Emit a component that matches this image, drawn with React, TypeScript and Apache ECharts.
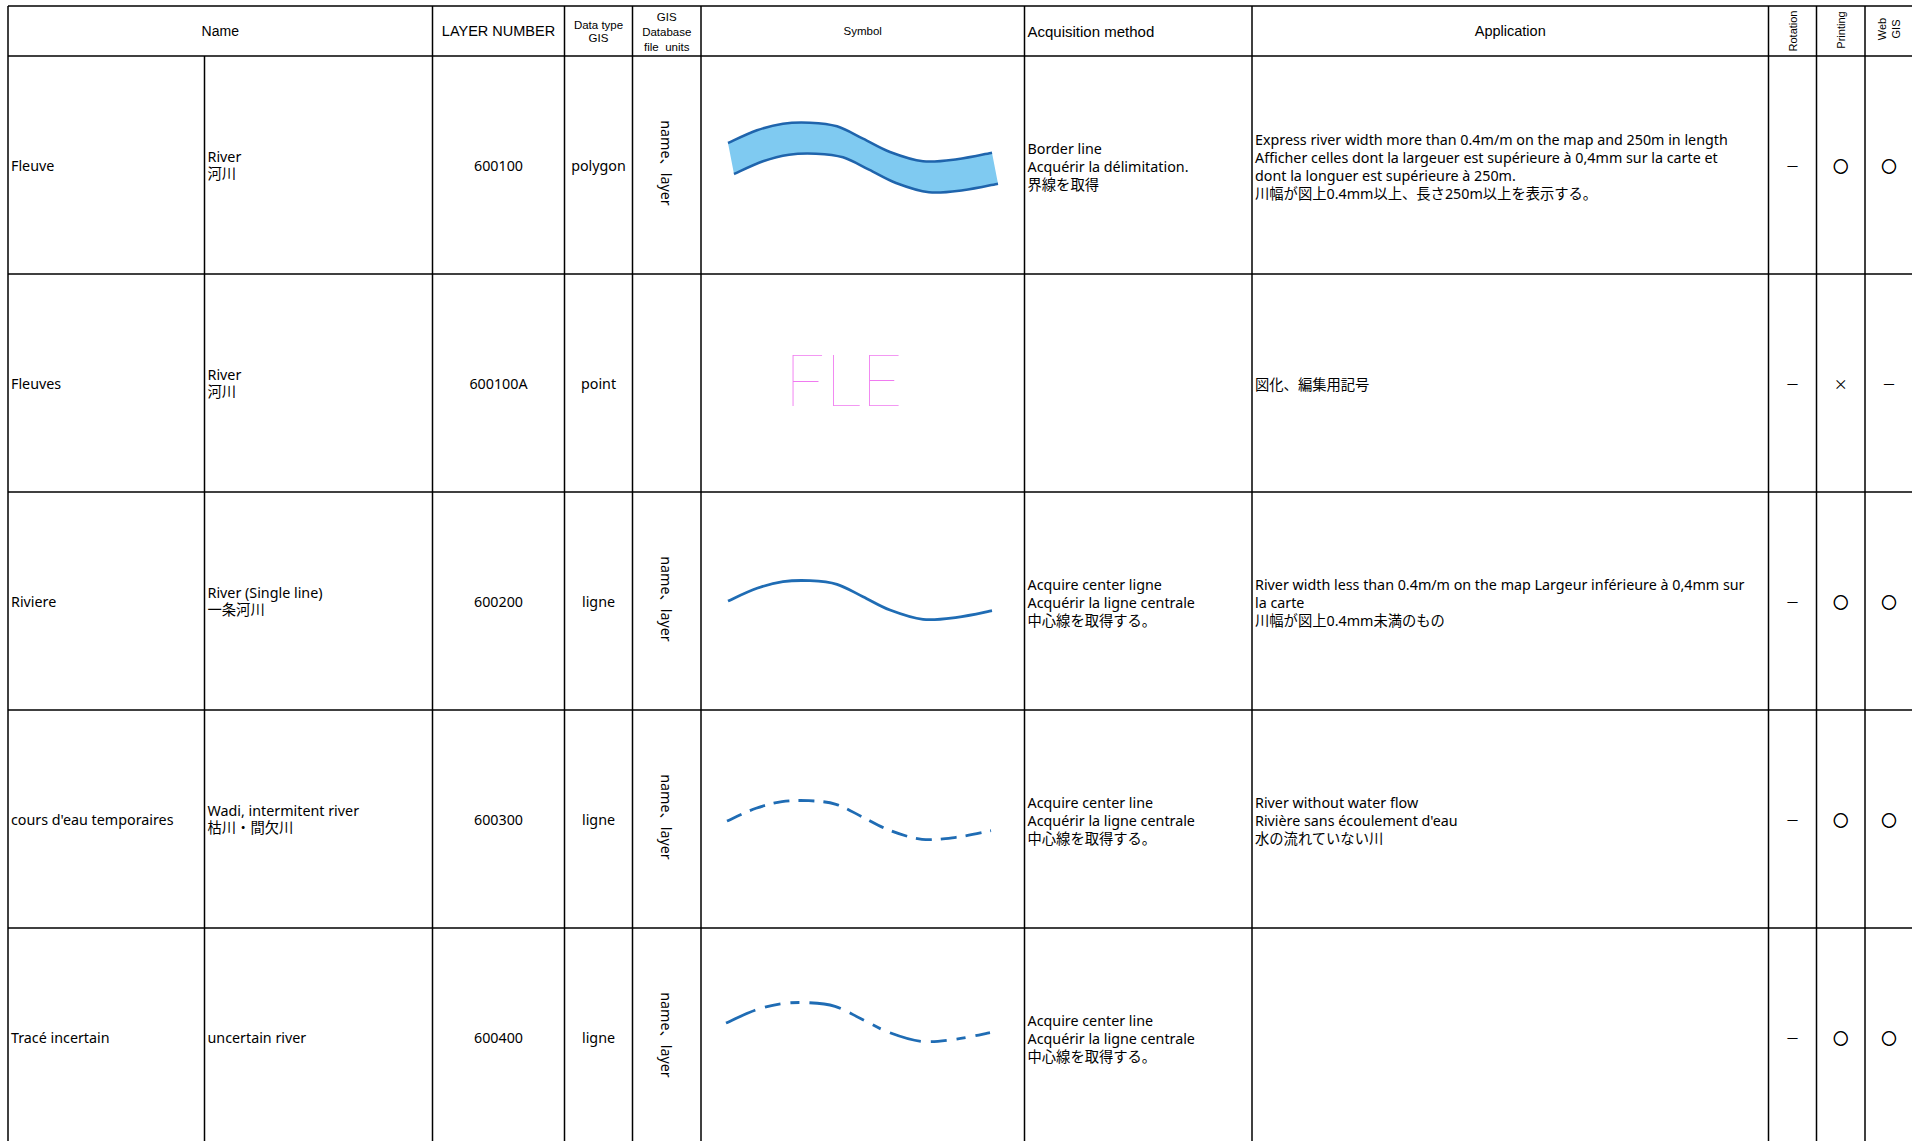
import React, { useEffect, useRef } from "react";
import * as echarts from "echarts";

// ---- table grid ----
const COL_X = [8, 204.5, 432.5, 564.5, 632.5, 701, 1024.5, 1252, 1768.5, 1816.5, 1865, 1913];
const ROW_Y = [6, 56, 274, 492, 710, 928, 1146];

// ---- table content ----
const NAMES_FR = ["Fleuve", "Fleuves", "Riviere", "cours d'eau temporaires", "Tracé incertain"];
const NAMES_EN_JP = [
  "River\n河川",
  "River\n河川",
  "River (Single line)\n一条河川",
  "Wadi, intermitent river\n枯川・間欠川",
  "uncertain river",
];
const LAYER_NUMBERS = ["600100", "600100A", "600200", "600300", "600400"];
const DATA_TYPES = ["polygon", "point", "ligne", "ligne", "ligne"];
const DB_UNITS = ["name、layer", "", "name、layer", "name、layer", "name、layer"];
const ACQUISITION = [
  "Border line\nAcquérir la délimitation.\n界線を取得",
  "",
  "Acquire center ligne\nAcquérir la ligne centrale\n中心線を取得する。",
  "Acquire center line\nAcquérir la ligne centrale\n中心線を取得する。",
  "Acquire center line\nAcquérir la ligne centrale\n中心線を取得する。",
];
const APPLICATION = [
  "Express river width more than 0.4m/m on the map and 250m in length\nAfficher celles dont la largeuer est supérieure à 0,4mm sur la carte et\ndont la longuer est supérieure à 250m.\n川幅が図上0.4mm以上、長さ250m以上を表示する。",
  "図化、編集用記号",
  "River width less than 0.4m/m on the map Largeur inférieure à 0,4mm sur\nla carte\n川幅が図上0.4mm未満のもの",
  "River without water flow\nRivière sans écoulement d'eau\n水の流れていない川",
  "",
];
const ROTATION = ["－", "－", "－", "－", "－"];
const PRINTING = ["○", "×", "○", "○", "○"];
const WEB_GIS = ["○", "－", "○", "○", "○"];

// ---- symbol curve (river outline shape, relative to row centre) ----
const CURVE_X = [728, 757, 783, 810, 837, 863, 890, 923, 957, 992];
const CURVE_DY = [0, -12.7, -19.3, -20.3, -16.7, -4.3, 9, 18.3, 16.3, 9.7];

const FONT = "'Noto Sans', 'Noto Sans CJK JP', sans-serif";
const FONT_HEAD = "'Liberation Sans', 'Noto Sans CJK JP', sans-serif";
const FONT_ARIAL = "'Liberation Sans', Arial, sans-serif";
const FONT_CJK = "'Noto Sans CJK JP', sans-serif";

function pts(dx: number, cy: number, off: number): number[][] {
  return CURVE_X.map((x, i) => [x + dx, cy + off + CURVE_DY[i]]);
}

function segs(p: number[][]): string {
  let d = "";
  for (let i = 0; i < p.length - 1; i++) {
    const p0 = p[Math.max(0, i - 1)];
    const p1 = p[i];
    const p2 = p[i + 1];
    const p3 = p[Math.min(p.length - 1, i + 2)];
    const c1x = p1[0] + (p2[0] - p0[0]) / 6;
    const c1y = p1[1] + (p2[1] - p0[1]) / 6;
    const c2x = p2[0] - (p3[0] - p1[0]) / 6;
    const c2y = p2[1] - (p3[1] - p1[1]) / 6;
    d += ` C ${c1x} ${c1y} ${c2x} ${c2y} ${p2[0]} ${p2[1]}`;
  }
  return d;
}

function openPath(p: number[][]): string {
  return `M ${p[0][0]} ${p[0][1]}` + segs(p);
}

export default function App() {
  const ref = useRef<HTMLDivElement>(null);

  useEffect(() => {
    if (!ref.current) return;
    const rc = (r: number) => (ROW_Y[r + 1] + ROW_Y[r + 2]) / 2;

    // register symbol shapes
    const top = pts(0, rc(0), -22);
    const bot = pts(6, rc(0), 9);
    const botRev = bot.slice().reverse();
    const bandD = openPath(top) + ` L ${botRev[0][0]} ${botRev[0][1]}` + segs(botRev) + " Z";
    echarts.graphic.registerShape("riverBand", echarts.graphic.extendPath(bandD, {}));
    echarts.graphic.registerShape("riverTop", echarts.graphic.extendPath(openPath(top), {}));
    echarts.graphic.registerShape("riverBottom", echarts.graphic.extendPath(openPath(bot), {}));
    echarts.graphic.registerShape("riverSingle", echarts.graphic.extendPath(openPath(pts(0, rc(2), 0)), {}));
    echarts.graphic.registerShape("riverDashed", echarts.graphic.extendPath(openPath(pts(-1, rc(3), 2)), {}));
    echarts.graphic.registerShape("riverUncertain", echarts.graphic.extendPath(openPath(pts(-2, rc(4), -14)), {}));

    const chart = echarts.init(ref.current, null, { renderer: "svg" });
    const els: any[] = [];
    const LINE = { stroke: "#000", lineWidth: 1.5 };

    // horizontal lines
    for (let i = 0; i < ROW_Y.length - 1; i++) {
      els.push({ type: "line", shape: { x1: COL_X[0], y1: ROW_Y[i], x2: 1912, y2: ROW_Y[i] }, style: LINE });
    }
    // vertical lines
    COL_X.forEach((x, i) => {
      const y1 = i === 1 ? ROW_Y[1] : ROW_Y[0];
      els.push({ type: "line", shape: { x1: x, y1, x2: x, y2: 1146 }, style: LINE });
    });

    const txt = (text: string, x: number, y: number, opts: any = {}, rot = 0) => {
      const style: any = {
        text,
        x: 0,
        y: 0,
        fill: opts.fill || "#000",
        fontSize: opts.fontSize || 14.3,
        fontFamily: opts.fontFamily || FONT,
        fontWeight: opts.fontWeight || "normal",
        textAlign: opts.align || "left",
        textVerticalAlign: "middle",
        lineHeight: opts.lineHeight || 18,
      };
      if (opts.stroke) {
        style.stroke = opts.stroke;
        style.lineWidth = opts.strokeWidth || 0.6;
      }
      els.push({ type: "text", x, y, rotation: rot, style });
    };
    const cx = (c: number) => (COL_X[c] + COL_X[c + 1]) / 2;
    const hy = (ROW_Y[0] + ROW_Y[1]) / 2;

    // header
    txt("Name", (COL_X[0] + COL_X[2]) / 2, hy, { align: "center", fontSize: 14, fontFamily: FONT_HEAD });
    txt("LAYER NUMBER", cx(2), hy, { align: "center", fontSize: 14.5, fontFamily: FONT_HEAD });
    txt("Data type\nGIS", cx(3), hy, { align: "center", fontSize: 11.5, lineHeight: 13, fontFamily: FONT_HEAD });
    txt("GIS\nDatabase\nfile  units", cx(4), hy + 0.5, { align: "center", fontSize: 11.5, lineHeight: 15, fontFamily: FONT_HEAD });
    txt("Symbol", cx(5), hy, { align: "center", fontSize: 11.5, fontFamily: FONT_HEAD });
    txt("Acquisition method", COL_X[6] + 3, hy, { fontSize: 15, fontFamily: FONT_HEAD });
    txt("Application", cx(7), hy, { align: "center", fontSize: 14.5, fontFamily: FONT_HEAD });
    txt("Rotation", cx(8), hy, { align: "center", fontSize: 11, fontFamily: FONT_ARIAL }, Math.PI / 2);
    txt("Printing", cx(9), hy - 1, { align: "center", fontSize: 11, fontFamily: FONT_ARIAL }, Math.PI / 2);
    txt("Web\nGIS", cx(10), hy - 2, { align: "center", fontSize: 11, fontFamily: FONT_ARIAL, lineHeight: 14 }, Math.PI / 2);

    const markOpts = (m: string) =>
      m === "○"
        ? { align: "center", fontSize: 15, fontFamily: FONT_CJK, stroke: "#000", strokeWidth: 0.7 }
        : { align: "center", fontSize: 14, fontFamily: FONT_CJK };

    // rows
    for (let r = 0; r < 5; r++) {
      const y = rc(r);
      txt(NAMES_FR[r], COL_X[0] + 3, y);
      txt(NAMES_EN_JP[r], COL_X[1] + 3, y, { lineHeight: 17 });
      txt(LAYER_NUMBERS[r], cx(2), y, { align: "center" });
      txt(DATA_TYPES[r], cx(3), y, { align: "center" });
      if (DB_UNITS[r]) txt(DB_UNITS[r], cx(4), y - 2, { align: "center" }, -Math.PI / 2);
      if (ACQUISITION[r]) txt(ACQUISITION[r], COL_X[6] + 3, y + 1);
      if (APPLICATION[r]) txt(APPLICATION[r], COL_X[7] + 3, y + 1);
      txt(ROTATION[r], cx(8), y, markOpts(ROTATION[r]));
      txt(PRINTING[r], cx(9), y, markOpts(PRINTING[r]));
      txt(WEB_GIS[r], cx(10), y, markOpts(WEB_GIS[r]));
    }

    // symbols
    els.push({ type: "riverBand", style: { fill: "#7fcaf1", stroke: null, lineWidth: 0 } });
    els.push({ type: "riverTop", style: { fill: null, stroke: "#1f64ac", lineWidth: 2.5 } });
    els.push({ type: "riverBottom", style: { fill: null, stroke: "#1f64ac", lineWidth: 2.5 } });
    els.push({
      type: "text",
      x: 843.5,
      y: 378,
      style: {
        text: "FLE",
        x: 0,
        y: 0,
        fill: "#f07af0",
        fontSize: 72,
        fontFamily: "Lato",
        fontWeight: 100,
        textAlign: "center",
        textVerticalAlign: "middle",
      },
    });
    els.push({ type: "riverSingle", style: { fill: null, stroke: "#1f6cb4", lineWidth: 2.8 } });
    els.push({ type: "riverDashed", style: { fill: null, stroke: "#1f6cb4", lineWidth: 2.8, lineDash: [16, 9] } });
    els.push({
      type: "riverUncertain",
      style: { fill: null, stroke: "#1f6cb4", lineWidth: 2.8, lineDash: [32, 10, 16, 10, 9, 10] },
    });

    chart.setOption({ animation: false, backgroundColor: "#fff", graphic: { elements: els } });
    return () => chart.dispose();
  }, []);

  return (
    <div
      ref={ref}
      style={{ position: "fixed", left: 0, top: 0, width: 1912, height: 1141, background: "#fff" }}
    />
  );
}
